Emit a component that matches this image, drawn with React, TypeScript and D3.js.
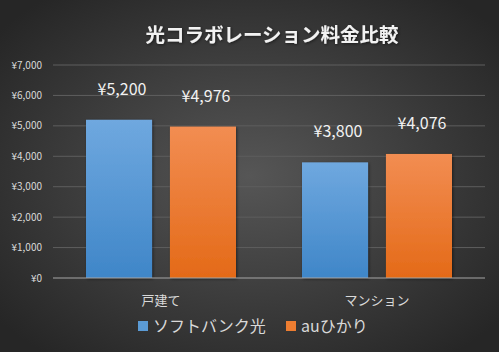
import React from "react";
import * as d3 from "d3";

const categories = ["戸建て", "マンション"];
const seriesNames = ["ソフトバンク光", "auひかり"];
const softbank = [5200, 3800];
const au = [4976, 4076];
const yTicks = [0, 1000, 2000, 3000, 4000, 5000, 6000, 7000];
const title = "光コラボレーション料金比較";

const W = 499, H = 352;
const FONT = "'Noto Sans CJK JP', 'Noto Sans', sans-serif";

export default function App() {
  const x0 = d3.scaleBand().domain(categories).range([53, 485]).paddingInner(0).paddingOuter(0);
  const x1 = d3.scaleBand().domain(seriesNames).range([33, 183]).paddingInner(16 / 75).paddingOuter(0);
  const y = d3.scaleLinear().domain([0, 7000]).range([278, 65]);
  const fmt = (v: number) => "¥" + d3.format(",")(v);
  const series = [softbank, au];
  const grads = ["gBlue", "gOrange"];
  const swatch = ["#5b9bd5", "#ed7d31"];

  return (
    <svg width={W} height={H} style={{ position: "absolute", left: 0, top: 0 }} fontFamily={FONT}>
      <defs>
        <radialGradient id="bg" cx="50%" cy="50%" r="65%">
          <stop offset="0%" stopColor="#565656" />
          <stop offset="100%" stopColor="#262626" />
        </radialGradient>
        <linearGradient id="gBlue" x1="0" y1="0" x2="0" y2="1">
          <stop offset="0%" stopColor="#6fa8df" />
          <stop offset="100%" stopColor="#3f86c8" />
        </linearGradient>
        <linearGradient id="gOrange" x1="0" y1="0" x2="0" y2="1">
          <stop offset="0%" stopColor="#f28d52" />
          <stop offset="100%" stopColor="#e46a18" />
        </linearGradient>
        <filter id="shadow" x="-20%" y="-20%" width="140%" height="140%">
          <feDropShadow dx="1" dy="1" stdDeviation="1.5" floodColor="#000" floodOpacity="0.5" />
        </filter>
      </defs>
      <rect x={0} y={0} width={W} height={H} fill="url(#bg)" />
      <text x={272} y={42} textAnchor="middle" fill="#f2f2f2" fontSize={19.5} fontWeight="bold" filter="url(#shadow)">{title}</text>
      {yTicks.map((t) => (
        <g key={t}>
          {t > 0 && <line x1={53} x2={485} y1={y(t)} y2={y(t)} stroke="#5e5e5e" strokeWidth={1} />}
          <text x={42} y={y(t)} dy="0.35em" textAnchor="end" fill="#d9d9d9" fontSize={10}>{fmt(t)}</text>
        </g>
      ))}
      {categories.map((c, ci) => (
        <g key={c}>
          {series.map((s, si) => {
            const bx = (x0(c) as number) + (x1(seriesNames[si]) as number);
            const bw = x1.bandwidth();
            return (
              <g key={si}>
                <rect x={bx} y={y(s[ci])} width={bw} height={y(0) - y(s[ci])} fill={`url(#${grads[si]})`} filter="url(#shadow)" />
                <text x={bx + bw / 2 + 3} y={y(s[ci]) - 25} textAnchor="middle" fill="#f2f2f2" fontSize={16}>{fmt(s[ci])}</text>
              </g>
            );
          })}
          <text x={(x0(c) as number) + x0.bandwidth() / 2} y={305} textAnchor="middle" fill="#d9d9d9" fontSize={13}>{c}</text>
        </g>
      ))}
      <line x1={53} x2={485} y1={y(0)} y2={y(0)} stroke="#a6a6a6" strokeWidth={1} />
      {seriesNames.map((n, i) => {
        const lx = i === 0 ? 138 : 286;
        return (
          <g key={n}>
            <rect x={lx} y={321} width={10} height={10} fill={swatch[i]} />
            <text x={lx + 15} y={332} fill="#d9d9d9" fontSize={16}>{n}</text>
          </g>
        );
      })}
    </svg>
  );
}
